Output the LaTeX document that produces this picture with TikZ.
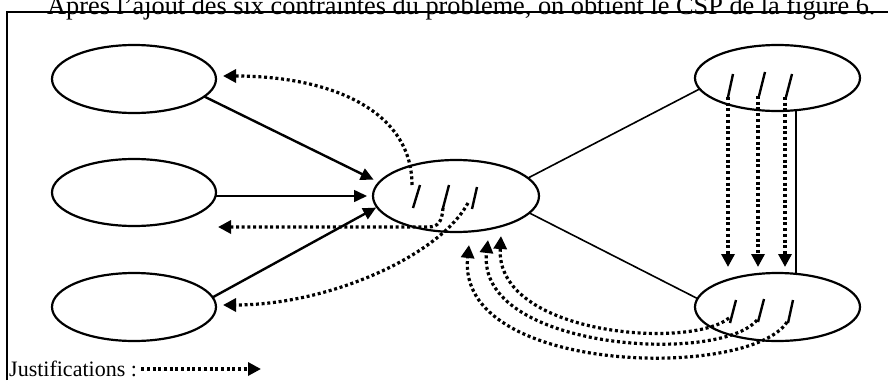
\documentclass[tikz,border=0pt]{standalone}
\usepackage{fontspec}
\setmainfont{Liberation Serif}
\usetikzlibrary{shapes.geometric,arrows.meta}
\begin{document}
\begin{tikzpicture}[x=1pt,y=-1pt,
  ell/.style={ellipse,draw,line width=2.2pt,inner sep=0pt,outer sep=0pt},
  solidarrow/.style={line width=2.4pt,-{Triangle[length=13pt,width=12pt]}},
  thinarrow/.style={line width=1.6pt,-{Triangle[length=13pt,width=12pt]}},
  dotarrow/.style={line width=3.2pt,line cap=butt,dash pattern=on 3pt off 2.7pt,-{Triangle[length=13pt,width=13pt]}},
  link/.style={line width=1.6pt},
  slashmark/.style={line width=2.4pt},
  txt/.style={inner sep=0pt,font=\fontsize{22}{26}\selectfont},
  titletxt/.style={inner sep=0pt,font=\fontsize{26.3}{30}\selectfont}]
\useasboundingbox (0,0) rectangle (888,380);

% title line (cut by the frame)
\node[titletxt,anchor=base west] (title) at (47,14)
  {Après l’ajout des six contraintes du problème, on obtient le CSP de la figure 6.};
\draw[line width=2.6pt] (7,380) -- (7,12) -- (888,12);

% variables
\node[ell,minimum width=164pt,minimum height=68pt] (L1) at (134,79) {};
\node[ell,minimum width=164pt,minimum height=67pt] (L2) at (134,192.5) {};
\node[ell,minimum width=164pt,minimum height=68pt] (L3) at (134,307) {};
\node[ell,minimum width=166pt,minimum height=72pt] (C) at (456,196) {};
\node[ell,minimum width=165pt,minimum height=66pt] (R1) at (777.5,78) {};
\node[ell,minimum width=165pt,minimum height=68pt] (R2) at (777.5,307) {};

% constraints
\draw[solidarrow,shorten >=6pt] (L1.-14) -- (C.170);
\draw[thinarrow,shorten >=6pt] (L2.east |- C.west) -- (C.west);
\draw[solidarrow,shorten >=1pt] (L3.7) -- (C.188.6);
\draw[link] (C.14) -- (R1.188);
\draw[link] (C.-13) -- (R2.174);
\draw[link] ([xshift=18.5pt]R1.south) -- ([xshift=18.5pt]R2.north);

% slashes in C
\coordinate (c1t) at (420,185); \coordinate (c1b) at (413,208);
\coordinate (c2t) at (449,185); \coordinate (c2b) at (443,208);
\coordinate (c3t) at (477,187); \coordinate (c3b) at (472,209);
\draw[slashmark] (c1t) -- (c1b);
\draw[slashmark] (c2t) -- (c2b);
\draw[slashmark] (c3t) -- (c3b);

% slashes in R1
\coordinate (p1t) at (733,74); \coordinate (p1b) at (728,97);
\coordinate (p2t) at (765,72); \coordinate (p2b) at (759,96);
\coordinate (p3t) at (792,74); \coordinate (p3b) at (786,97);
\draw[slashmark] (p1t) -- (p1b);
\draw[slashmark] (p2t) -- (p2b);
\draw[slashmark] (p3t) -- (p3b);

% slashes in R2
\coordinate (q1t) at (736,300); \coordinate (q1b) at (730,323);
\coordinate (q2t) at (764,299); \coordinate (q2b) at (758,322);
\coordinate (q3t) at (793,300); \coordinate (q3b) at (788,323);
\draw[slashmark] (q1t) -- (q1b);
\draw[slashmark] (q2t) -- (q2b);
\draw[slashmark] (q3t) -- (q3b);

% justifications from C to the left
\coordinate (a0) at (412,185);
\coordinate (a1) at (223,76);
\draw[dotarrow] (a0) .. controls (412,110) and (330,76) .. (a1);
\coordinate (b1) at (218,227);
\draw[dotarrow] (c2b) .. controls (442,222) and (438,227) .. (428,227) -- (b1);
\coordinate (cs) at (468,203);
\coordinate (c4) at (223,305);
\draw[dotarrow] (cs) .. controls (440,255) and (330,305) .. (c4);

% justifications from R1 to R2
\coordinate (v1) at (728,267);
\coordinate (v2) at (758,267);
\coordinate (v3) at (785,267);
\draw[dotarrow] (p1b) -- (v1);
\draw[dotarrow] ([xshift=-1pt]p2b) -- (v2);
\draw[dotarrow] ([xshift=-1pt]p3b) -- (v3);

% justifications from R2 to C
\coordinate (d1s) at (729,318); \coordinate (d1e) at (501,236);
\coordinate (d2s) at (757,320); \coordinate (d2e) at (488,240);
\coordinate (d3s) at (787,322); \coordinate (d3e) at (469,245);
\draw[dotarrow] (d1s) .. controls (690,350) and (495,335) .. (d1e);
\draw[dotarrow] (d2s) .. controls (720,365) and (475,350) .. (d2e);
\draw[dotarrow] (d3s) .. controls (750,380) and (455,375) .. (d3e);

% legend
\node[txt,anchor=base west] (legend) at (9,376) {Justifications :};
\coordinate (legEnd) at (261,369);
\draw[dotarrow] ([xshift=4pt]legend.east |- legEnd) -- (legEnd);
\end{tikzpicture}
\end{document}
